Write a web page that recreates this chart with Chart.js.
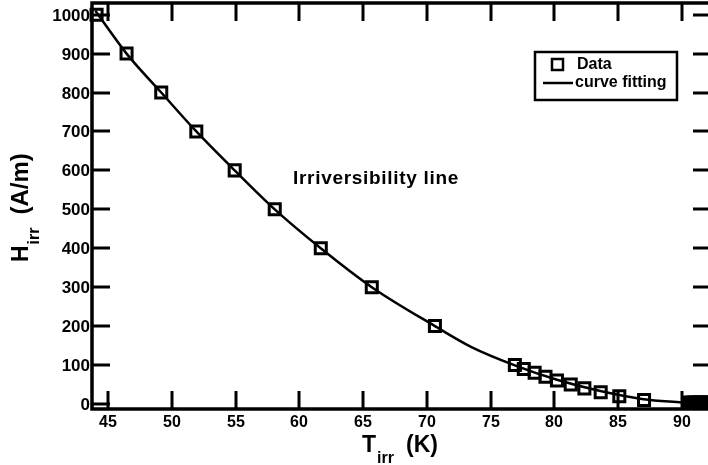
<!DOCTYPE html>
<html><head><meta charset="utf-8">
<script src="https://cdn.jsdelivr.net/npm/chart.js@4/dist/chart.umd.min.js"></script>
<style>html,body{margin:0;padding:0;overflow:hidden;background:#fff;width:708px;height:465px}canvas{display:block}</style>
</head><body><canvas id="c" width="712" height="465"></canvas>
<script>
// Measured data (squares)
const dataT = [44.10, 46.45, 49.17, 51.92, 54.93, 58.07, 61.68, 65.68, 70.63, 76.90, 77.60, 78.45, 79.30, 80.20, 81.28, 82.35, 83.63, 85.09, 87.03,
  90.55, 90.65, 90.75, 90.85, 90.95, 91.05, 91.15, 91.25, 91.35, 91.45, 91.55, 91.65, 91.75, 91.85, 91.95, 92.05, 92.15, 92.25];
const dataH = [1000, 900, 800, 700, 600, 500, 400, 300, 200, 100, 90, 80, 70, 60, 50, 40, 30, 20, 10,
  3, 3, 3, 3, 3, 3, 3, 3, 3, 3, 3, 3, 3, 3, 3, 3, 3, 3];
// Fitted curve
const fitT = [44.0, 46.45, 49.17, 51.92, 54.93, 58.07, 61.68, 65.68, 70.63, 73.5, 76.9, 80.2, 83.6, 87.0, 90.0];
const fitH = [1010, 900, 800, 700, 600, 500, 400, 300, 200, 146, 99, 62, 33, 12, 4];
const xTicks = [45, 50, 55, 60, 65, 70, 75, 80, 85, 90];
const yTicks = [0, 100, 200, 300, 400, 500, 600, 700, 800, 900, 1000];
const seriesNames = ['Data', 'curve fitting'];
const annotationText = 'Irriversibility line';
const xTitle = ['T', 'irr', '(K)'];
const yTitle = ['H', 'irr', '(A/m)'];

const FONT = '"Liberation Sans", Arial, Helvetica, sans-serif';

const decor = {
  id: 'decor',
  afterDraw(chart) {
    const ctx = chart.ctx, a = chart.chartArea;
    const xs = chart.scales.x, ys = chart.scales.y;
    ctx.save();
    ctx.strokeStyle = '#000';
    ctx.fillStyle = '#000';
    ctx.lineCap = 'butt';
    // inward ticks on all four sides + tick labels
    ctx.lineWidth = 3;
    const TL = 18;
    ctx.font = 'bold 16px ' + FONT;
    ctx.textAlign = 'center';
    ctx.textBaseline = 'alphabetic';
    xTicks.forEach(v => {
      const px = Math.round(xs.getPixelForValue(v));
      ctx.beginPath();
      ctx.moveTo(px, a.bottom); ctx.lineTo(px, a.bottom - TL);
      ctx.moveTo(px, a.top); ctx.lineTo(px, a.top + TL);
      ctx.stroke();
      ctx.fillText(String(v), px, a.bottom + 18);
    });
    ctx.font = 'bold 17px ' + FONT;
    ctx.textAlign = 'right';
    yTicks.forEach(v => {
      const py = Math.round(ys.getPixelForValue(v));
      ctx.beginPath();
      ctx.moveTo(a.left, py); ctx.lineTo(a.left + TL, py);
      ctx.moveTo(a.right, py); ctx.lineTo(a.right - TL, py);
      ctx.stroke();
      ctx.fillText(String(v), a.left - 2, py + 6);
    });
    // frame
    ctx.lineWidth = 3.5;
    ctx.strokeRect(a.left, a.top, a.right - a.left, a.bottom - a.top);

    ctx.textAlign = 'left';
    // annotation
    ctx.font = 'bold 19px ' + FONT;
    ctx.letterSpacing = '0.7px';
    ctx.fillText(annotationText, 293, 184);
    ctx.letterSpacing = '0px';

    // x title
    let x = 362;
    ctx.font = 'bold 23px ' + FONT;
    ctx.fillText(xTitle[0], x, 452);
    x += ctx.measureText(xTitle[0]).width + 1;
    ctx.font = 'bold 16px ' + FONT;
    ctx.fillText(xTitle[1], x, 463);
    ctx.font = 'bold 23px ' + FONT;
    ctx.fillText(xTitle[2], 406, 452);

    // y title (rotated)
    ctx.save();
    ctx.translate(28, 262);
    ctx.rotate(-Math.PI / 2);
    let y = 0;
    ctx.font = 'bold 23px ' + FONT;
    ctx.fillText(yTitle[0], y, 0);
    y += ctx.measureText(yTitle[0]).width + 1;
    ctx.font = 'bold 16px ' + FONT;
    ctx.fillText(yTitle[1], y, 11);
    y += ctx.measureText(yTitle[1]).width + 13;
    ctx.font = 'bold 24px ' + FONT;
    ctx.fillText(yTitle[2], y, 0);
    ctx.restore();

    // legend
    ctx.lineWidth = 2.5;
    ctx.strokeRect(535, 52, 142, 48);
    ctx.strokeRect(552, 59, 11, 11);
    ctx.beginPath(); ctx.moveTo(543, 83); ctx.lineTo(573, 83); ctx.stroke();
    ctx.font = 'bold 16px ' + FONT;
    ctx.textBaseline = 'middle';
    ctx.fillText(seriesNames[0], 577, 65);
    ctx.fillText(seriesNames[1], 575, 83);
    ctx.restore();
  }
};

new Chart(document.getElementById('c'), {
  type: 'scatter',
  data: {
    datasets: [
      {
        label: seriesNames[1],
        data: fitT.map((t, i) => ({ x: t, y: fitH[i] })),
        showLine: true,
        borderColor: '#000',
        borderWidth: 2.5,
        pointRadius: 0,
        cubicInterpolationMode: 'monotone',
        fill: false,
        order: 2
      },
      {
        label: seriesNames[0],
        data: dataT.map((t, i) => ({ x: t, y: dataH[i] })),
        showLine: false,
        pointStyle: 'rect',
        pointRadius: 7.8,
        pointBorderWidth: 3,
        pointBorderColor: '#000',
        pointBackgroundColor: 'rgba(0,0,0,0)',
        clip: false,
        order: 1
      }
    ]
  },
  options: {
    responsive: false,
    animation: false,
    devicePixelRatio: 1,
    layout: { autoPadding: false, padding: { left: 92, top: 3, right: 1, bottom: 56 } },
    plugins: { legend: { display: false }, tooltip: { enabled: false } },
    scales: {
      x: { type: 'linear', min: 43.74, max: 92.28, display: false },
      y: { type: 'linear', min: -13, max: 1030, display: false }
    }
  },
  plugins: [decor]
});
</script>
</body></html>
